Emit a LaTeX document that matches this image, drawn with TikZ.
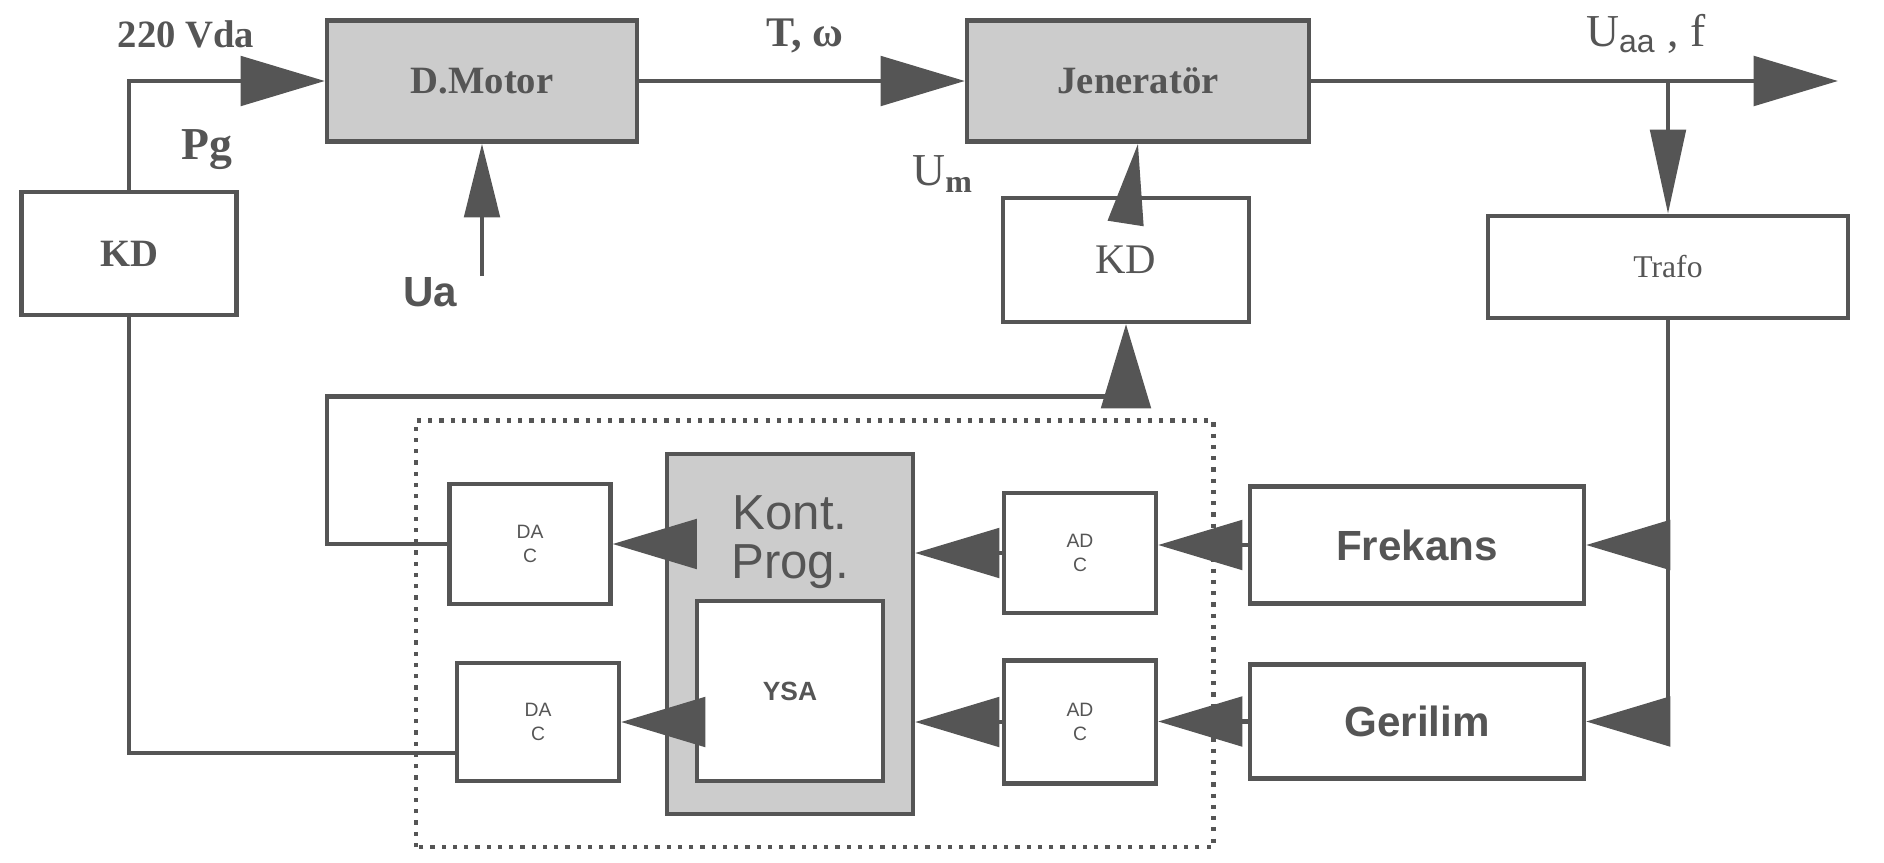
\documentclass[tikz,border=0pt]{standalone}
\usepackage{fontspec}
\setmainfont{Liberation Serif}
\newfontfamily\arialfont{Liberation Sans}
\usetikzlibrary{arrows.meta}
\definecolor{ink}{RGB}{85,85,85}
\definecolor{shade}{RGB}{204,204,204}

\begin{document}
\begin{tikzpicture}[every node/.style={font=\fontsize{11}{13}\selectfont, text=ink},
    block/.style={draw=ink, line width=1.2pt, inner sep=0pt},
    sig/.style={draw=ink, line width=1.4pt, -{Triangle[length=24pt,width=14pt]}},
    smallsig/.style={draw=ink, line width=1.4pt, -{Triangle[length=21pt,width=10pt]}},
    wire/.style={draw=ink, line width=1.4pt}]
    \useasboundingbox (0,0) rectangle (18.84,8.62);
    % upper row
    \node[block, minimum width=2.15cm, minimum height=1.23cm] (kdleft) at (1.29,6.085) {\bfseries KD};
    \node[block, fill=shade, minimum width=3.10cm, minimum height=1.21cm] (motor) at (4.82,7.81) {\bfseries D.Motor};
    \node[block, fill=shade, minimum width=3.42cm, minimum height=1.21cm] (gen) at (11.38,7.81) {\bfseries Jeneratör};
    \node[block, minimum width=2.46cm, minimum height=1.24cm, font=\fontsize{12}{14}\selectfont] (kdgen) at (11.26,6.02) {KD};
    \node[block, minimum width=3.60cm, minimum height=1.02cm, font=\fontsize{9}{11}\selectfont] (trafo) at (16.68,5.95) {Trafo};
    \coordinate (ua) at (4.82,5.86);
    \coordinate (out) at (18.38,7.81);
    \coordinate (split) at (16.68,7.81);
    % lower part
    \draw[ink, dotted, line width=1.2pt] (4.16,0.15) rectangle (12.135,4.415);
    \node[block, fill=shade, minimum width=2.46cm, minimum height=3.60cm] (kont) at (7.90,2.28) {};
    \node[block, fill=white, minimum width=1.86cm, minimum height=1.80cm, font=\arialfont\bfseries\fontsize{7.5}{9}\selectfont] (ysa) at (7.90,1.71) {YSA};
    \node[align=center, font=\arialfont\fontsize{14}{14}\selectfont] (konttext) at (7.90,3.20) {Kont.\\Prog.};
    \node[block, minimum width=1.61cm, minimum height=1.20cm, align=center, font=\arialfont\fontsize{5.5}{7}\selectfont] (dacf) at (5.30,3.18) {DA\\C};
    \node[block, minimum width=1.62cm, minimum height=1.18cm, align=center, font=\arialfont\fontsize{5.5}{7}\selectfont] (dacg) at (5.38,1.40) {DA\\C};
    \node[block, minimum width=1.52cm, minimum height=1.20cm, align=center, font=\arialfont\fontsize{5.5}{7}\selectfont] (adcf) at (10.80,3.09) {AD\\C};
    \node[block, minimum width=1.52cm, minimum height=1.23cm, align=center, font=\arialfont\fontsize{5.5}{7}\selectfont] (adcg) at (10.80,1.40) {AD\\C};
    \node[block, minimum width=3.34cm, minimum height=1.17cm, font=\arialfont\bfseries\fontsize{12}{14}\selectfont] (frekans) at (14.17,3.17) {Frekans};
    \node[block, minimum width=3.34cm, minimum height=1.14cm, font=\arialfont\bfseries\fontsize{12}{14}\selectfont] (gerilim) at (14.17,1.405) {Gerilim};
    % labels
    \node[font=\bfseries\fontsize{11}{13}\selectfont] (vda) at (1.86,8.28) {220 Vda};
    \node[font=\bfseries\fontsize{13}{15}\selectfont] (pg) at (2.07,7.12) {Pg};
    \node[font=\arialfont\bfseries\fontsize{12}{14}\selectfont] (ualabel) at (4.30,5.70) {Ua};
    \node[font=\bfseries\fontsize{12}{14}\selectfont] (tw) at (8.05,8.26) {T, ω};
    \node[font=\fontsize{13}{15}\selectfont] (um) at (9.43,6.88) {U\textsubscript{\bfseries m}};
    \node[font=\fontsize{13}{15}\selectfont] (uaa) at (16.46,8.28) {U\textsubscript{\arialfont aa} , f};
    % connections
    \draw[sig] (kdleft.north) |- (motor.west);
    \draw[smallsig] (ua) -- (motor.south);
    \draw[sig] (motor.east) -- (gen.west);
    \draw[sig] (gen.east) -- (out);
    \draw[-{Triangle[length=24pt,width=10pt]}, draw=ink, line width=1.4pt] (split) -- (trafo.north);
    \draw[-{Triangle[length=23pt,width=10pt]}, draw=ink, line width=1.4pt] ([yshift=-0.25cm]kdgen.north) -- (gen.south);
    \draw[wire] (trafo.south) -- (trafo.south |- gerilim.east);
    \draw[sig] (trafo.south |- frekans.east) -- (frekans.east);
    \draw[sig] (trafo.south |- gerilim.east) -- (gerilim.east);
    \draw[sig] (frekans.west) -- (frekans.west -| adcf.east);
    \draw[sig] (gerilim.west) -- (gerilim.west -| adcg.east);
    \draw[sig] (adcf.west) -- (adcf.west -| kont.east);
    \draw[sig] (adcg.west) -- (adcg.west -| kont.east);
    \draw[sig] (kont.west |- dacf.east) -- (dacf.east);
    \draw[sig] (kont.west |- dacg.east) -- (dacg.east);
    \draw[sig] (dacf.west) -| (3.27,4.655) -| (kdgen.south);
    \draw[wire] ([yshift=-0.31cm]dacg.west) -| (kdleft.south);
\end{tikzpicture}
\end{document}
